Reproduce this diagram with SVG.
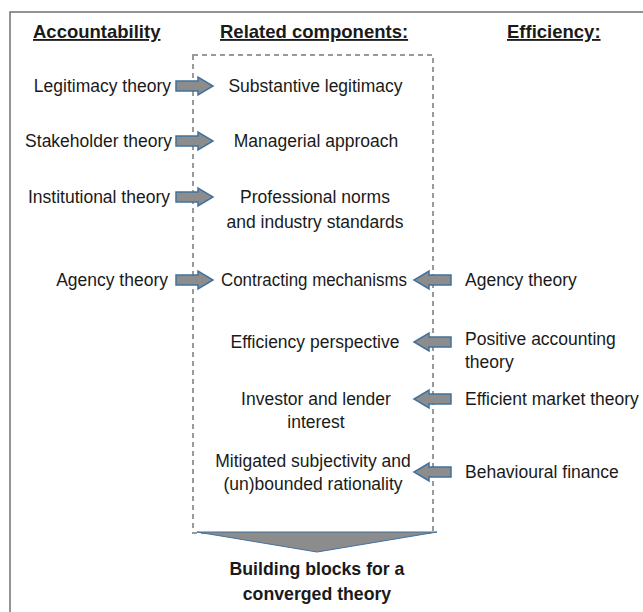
<svg xmlns="http://www.w3.org/2000/svg" width="643" height="612" viewBox="0 0 643 612">
  <style>
    text { font-family: "Liberation Sans", Arial, sans-serif; font-size: 17.5px; fill: #1a1a1a; }
    .hdr { font-weight: bold; font-size: 18.5px; text-decoration: underline; }
    .mid { text-anchor: middle; }
    .end { text-anchor: end; }
    .bold { font-weight: bold; font-size: 17.7px; }
    .arrow { fill: #8c8c8c; stroke: #41719c; stroke-width: 1.5; stroke-linejoin: miter; }
  </style>
  <defs>
    <!-- block arrow pointing right, origin at left-centre -->
    <path id="arrowR" d="M0,-5 H22 V-9 L37,0 L22,9 V5 H0 Z"/>
    <!-- block arrow pointing left, origin at right-centre -->
    <path id="arrowL" d="M0,-5 H-22 V-9 L-37,0 L-22,9 V5 H0 Z"/>
  </defs>

  <rect width="643" height="612" fill="#ffffff"/>

  <!-- outer frame -->
  <path d="M10,620 V12 H650" fill="none" stroke="#707070" stroke-width="1.5"/>

  <!-- column headings -->
  <g id="headings">
    <text class="hdr" x="33" y="38">Accountability</text>
    <text class="hdr" x="220" y="38">Related components:</text>
    <text class="hdr" x="507" y="38">Efficiency:</text>
  </g>

  <!-- dashed container of related components -->
  <g id="components-box">
    <rect x="193" y="55" width="240" height="478" fill="none" stroke="#9a9a9a" stroke-width="2" stroke-dasharray="5,4"/>
  </g>

  <!-- connectors -->
  <g id="connectors">
    <use href="#arrowR" x="176" y="86" class="arrow"/>
    <use href="#arrowR" x="176" y="141" class="arrow"/>
    <use href="#arrowR" x="176" y="197" class="arrow"/>
    <use href="#arrowR" x="176" y="280" class="arrow"/>
    <use href="#arrowL" x="451" y="280" class="arrow"/>
    <use href="#arrowL" x="451" y="342" class="arrow"/>
    <use href="#arrowL" x="451" y="399" class="arrow"/>
    <use href="#arrowL" x="451" y="472" class="arrow"/>
    <!-- downward arrow into the outcome -->
    <path d="M197,532 H437 L317,552 Z" fill="#8c8c8c" stroke="#41719c" stroke-width="1"/>
  </g>

  <!-- accountability theories -->
  <g id="acc-legitimacy"><text class="end" x="171" y="92">Legitimacy theory</text></g>
  <g id="acc-stakeholder"><text class="end" x="172" y="147">Stakeholder theory</text></g>
  <g id="acc-institutional"><text class="end" x="170" y="203">Institutional theory</text></g>
  <g id="acc-agency"><text class="end" x="168" y="286">Agency theory</text></g>

  <!-- related components -->
  <g id="comp-substantive"><text class="mid" x="315.5" y="92">Substantive legitimacy</text></g>
  <g id="comp-managerial"><text class="mid" x="316" y="147">Managerial approach</text></g>
  <g id="comp-professional">
    <text class="mid" x="315" y="203">Professional norms</text>
    <text class="mid" x="315" y="228">and industry standards</text>
  </g>
  <g id="comp-contracting"><text class="mid" x="314" y="286" textLength="186" lengthAdjust="spacingAndGlyphs">Contracting mechanisms</text></g>
  <g id="comp-efficiency"><text class="mid" x="315" y="348">Efficiency perspective</text></g>
  <g id="comp-investor">
    <text class="mid" x="316" y="405">Investor and lender</text>
    <text class="mid" x="316" y="428">interest</text>
  </g>
  <g id="comp-mitigated">
    <text class="mid" x="313" y="467">Mitigated subjectivity and</text>
    <text class="mid" x="313" y="490">(un)bounded rationality</text>
  </g>

  <!-- efficiency theories -->
  <g id="eff-agency"><text x="465" y="286">Agency theory</text></g>
  <g id="eff-positive">
    <text x="465" y="345">Positive accounting</text>
    <text x="465" y="368">theory</text>
  </g>
  <g id="eff-market"><text x="465" y="405">Efficient market theory</text></g>
  <g id="eff-behavioural"><text x="465" y="478">Behavioural finance</text></g>

  <!-- outcome -->
  <g id="outcome">
    <text class="mid bold" x="317" y="575">Building blocks for a</text>
    <text class="mid bold" x="317" y="600">converged theory</text>
  </g>
</svg>
